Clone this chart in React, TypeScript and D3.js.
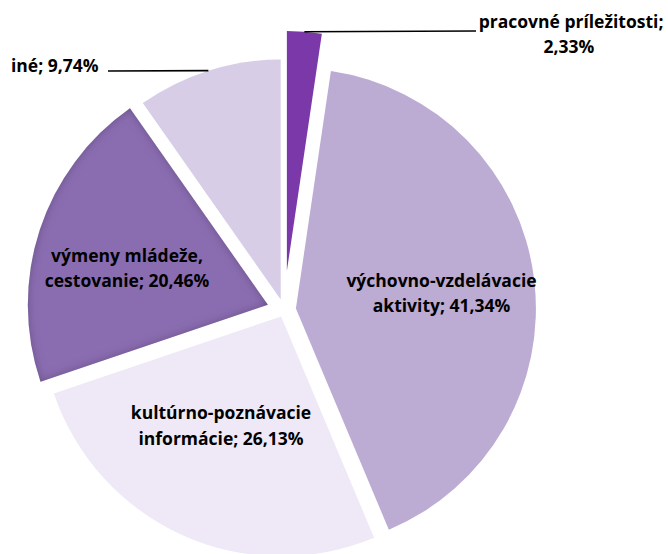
import React from "react";
import * as d3 from "d3";

const categories = [
  "pracovné príležitosti",
  "výchovno-vzdelávacie aktivity",
  "kultúrno-poznávacie informácie",
  "výmeny mládeže, cestovanie",
  "iné",
];
const values = [2.33, 41.34, 26.13, 20.46, 9.74];
const valueLabels = ["2,33%", "41,34%", "26,13%", "20,46%", "9,74%"];

const colors = ["#7b38a9", "#bcabd3", "#efe9f7", "#8a6db0", "#d7cde7"];
const explode = [39, 12, 7, 17, 11];

const W = 668;
const H = 554;
const CX = 284;
const CY = 310;
const R = 240;

const FONT = "'Open Sans', Lato, sans-serif";

export default function App() {
  const pie = d3
    .pie<number>()
    .sort(null)
    .value((d) => d)
    .startAngle(0)
    .endAngle(2 * Math.PI);
  const arcs = pie(values);
  const arc = d3.arc<d3.PieArcDatum<number>>().innerRadius(0).outerRadius(R);

  const offsets = arcs.map((a, i) => {
    const m = (a.startAngle + a.endAngle) / 2;
    return [explode[i] * Math.sin(m), -explode[i] * Math.cos(m)];
  });

  const outerMid = (i: number) => {
    const a = arcs[i];
    const m = (a.startAngle + a.endAngle) / 2;
    return [
      CX + offsets[i][0] + R * Math.sin(m),
      CY + offsets[i][1] - R * Math.cos(m),
    ];
  };

  const p0 = outerMid(0);
  const p4 = outerMid(4);

  const textStyle: React.CSSProperties = {
    fontFamily: FONT,
    fontWeight: 700,
    fontSize: 17.5,
    fill: "#000",
  };

  return (
    <svg
      width={W}
      height={H}
      style={{ position: "absolute", left: 0, top: 0, background: "#fff" }}
    >
      <defs>
        <filter id="inner" x="-10%" y="-10%" width="120%" height="120%">
          <feGaussianBlur in="SourceAlpha" stdDeviation="4" result="blur" />
          <feComposite in="SourceAlpha" in2="blur" operator="out" result="edge" />
          <feFlood floodColor="#2e1f4a" floodOpacity="0.55" />
          <feComposite in2="edge" operator="in" result="shadow" />
          <feMerge>
            <feMergeNode in="SourceGraphic" />
            <feMergeNode in="shadow" />
          </feMerge>
        </filter>
      </defs>
      {arcs.map((a, i) => (
        <path
          key={categories[i]}
          d={arc(a) || ""}
          fill={colors[i]}
          transform={`translate(${CX + offsets[i][0]},${CY + offsets[i][1]})`}
          filter={i === 3 ? "url(#inner)" : undefined}
        />
      ))}

      {/* leader lines */}
      <line x1={p0[0]} y1={p0[1]} x2={476} y2={31} stroke="#000" strokeWidth={1.6} />
      <line x1={p4[0]} y1={p4[1]} x2={108} y2={71} stroke="#000" strokeWidth={1.6} />

      {/* labels */}
      <text textAnchor="middle" style={textStyle}>
        <tspan x={571} y={28}>pracovné príležitosti;</tspan>
        <tspan x={569} y={53}>{valueLabels[0]}</tspan>
      </text>
      <text textAnchor="start" style={textStyle}>
        <tspan x={11} y={72}>{categories[4]}; {valueLabels[4]}</tspan>
      </text>
      <text textAnchor="middle" style={textStyle}>
        <tspan x={441.5} y={287}>výchovno-vzdelávacie</tspan>
        <tspan x={441.5} y={312}>aktivity; {valueLabels[1]}</tspan>
      </text>
      <text textAnchor="middle" style={textStyle}>
        <tspan x={221} y={419}>kultúrno-poznávacie</tspan>
        <tspan x={221} y={445}>informácie; {valueLabels[2]}</tspan>
      </text>
      <text textAnchor="middle" style={textStyle}>
        <tspan x={127} y={262}>výmeny mládeže,</tspan>
        <tspan x={127} y={287}>cestovanie; {valueLabels[3]}</tspan>
      </text>
    </svg>
  );
}
